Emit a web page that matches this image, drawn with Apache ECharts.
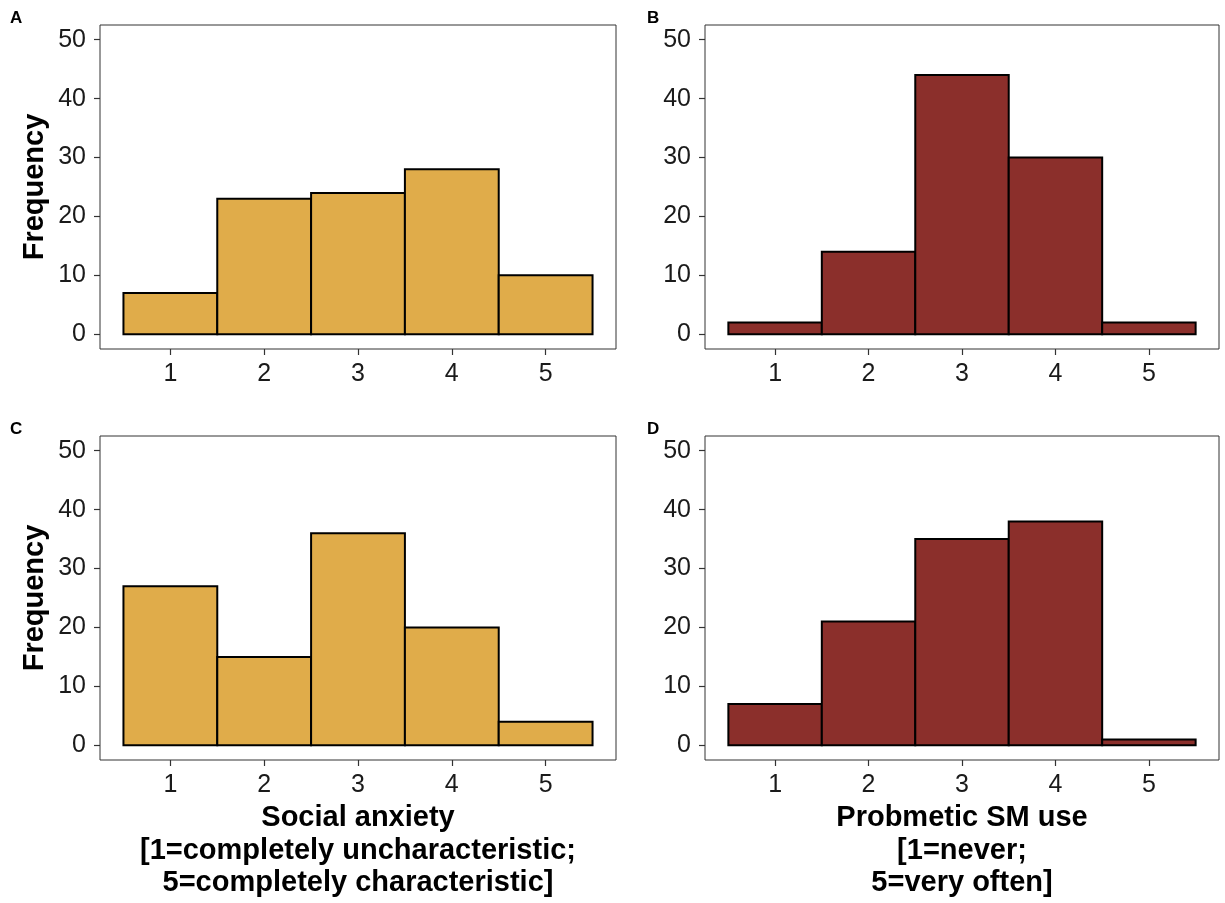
<!DOCTYPE html>
<html>
<head>
<meta charset="utf-8">
<script src="https://cdn.jsdelivr.net/npm/echarts@6/dist/echarts.min.js"></script>
<style>
  html, body { margin: 0; padding: 0; background: #fff; }
  #chart { width: 1225px; height: 903px; }
</style>
</head>
<body>
<div id="chart"></div>
<script>
// 数据
var categories = [1, 2, 3, 4, 5];
var yTicks = [0, 10, 20, 30, 40, 50];
var anxietyA = [7, 23, 24, 28, 10];
var smUseB = [2, 14, 44, 30, 2];
var anxietyC = [27, 15, 36, 20, 4];
var smUseD = [7, 21, 35, 38, 1];
var panelLabels = ["A", "B", "C", "D"];

var yellow = "#e0ac4a";
var red = "#8b2f2b";
var axisGrey = "#333333";
var font = "Liberation Sans";

var grids = [
  { left: 100, top: 25, width: 516, height: 324 },
  { left: 705, top: 25, width: 514, height: 324 },
  { left: 100, top: 436, width: 516, height: 324 },
  { left: 705, top: 436, width: 514, height: 324 }
];

var xNames = [
  "",
  "",
  "Social anxiety\n[1=completely uncharacteristic;\n5=completely characteristic]",
  "Probmetic SM use\n[1=never;\n5=very often]"
];

function makeXAxis(i) {
  return {
    gridIndex: i,
    type: "value",
    position: "bottom",
    min: 0.25,
    max: 5.75,
    splitLine: { show: false },
    axisLine: { show: false, onZero: false },
    axisTick: {
      show: true,
      inside: false,
      customValues: categories,
      length: 6,
      lineStyle: { color: axisGrey, width: 1.2 }
    },
    axisLabel: {
      customValues: categories,
      color: "#1a1a1a",
      fontSize: 25,
      fontFamily: font,
      margin: 13
    },
    name: xNames[i],
    nameLocation: "middle",
    nameGap: 42,
    nameTextStyle: {
      fontSize: 29,
      fontWeight: "bold",
      fontFamily: font,
      color: "#000",
      lineHeight: 32.5,
      verticalAlign: "top"
    }
  };
}

function makeYAxis(i) {
  return {
    gridIndex: i,
    type: "value",
    position: "left",
    min: -2.5,
    max: 52.5,
    splitLine: { show: false },
    axisLine: { show: false, onZero: false },
    axisTick: {
      show: true,
      inside: false,
      customValues: yTicks,
      length: 6,
      lineStyle: { color: axisGrey, width: 1.2 }
    },
    axisLabel: {
      customValues: yTicks,
      color: "#1a1a1a",
      fontSize: 25,
      fontFamily: font,
      margin: 14
    },
    name: i % 2 === 0 ? "Frequency" : "",
    nameLocation: "middle",
    nameGap: 51,
    nameTextStyle: {
      fontSize: 29,
      fontWeight: "bold",
      fontFamily: font,
      color: "#000"
    }
  };
}

function histSeries(i, data, color) {
  return {
    type: "custom",
    xAxisIndex: i,
    yAxisIndex: i,
    data: categories.map(function (c, k) { return [c, data[k]]; }),
    renderItem: function (params, api) {
      var x = api.value(0);
      var v = api.value(1);
      var p0 = api.coord([x - 0.5, v]);
      var p1 = api.coord([x + 0.5, 0]);
      return {
        type: "rect",
        shape: { x: p0[0], y: p0[1], width: p1[0] - p0[0], height: p1[1] - p0[1] },
        style: { fill: color, stroke: "#000", lineWidth: 2 }
      };
    }
  };
}

var chart = echarts.init(document.getElementById("chart"), null, { renderer: "canvas" });

chart.setOption({
  backgroundColor: "#fff",
  animation: false,
  title: panelLabels.map(function (t, i) {
    return {
      text: t,
      left: i % 2 === 0 ? 5 : 642,
      top: i < 2 ? 5 : 416,
      textStyle: { fontSize: 17, fontWeight: "bold", fontFamily: font, color: "#000" }
    };
  }),
  grid: grids.map(function (g) {
    return {
      left: g.left, top: g.top, width: g.width, height: g.height,
      show: true, borderColor: axisGrey, borderWidth: 1, backgroundColor: "transparent"
    };
  }),
  xAxis: [0, 1, 2, 3].map(makeXAxis),
  yAxis: [0, 1, 2, 3].map(makeYAxis),
  series: [
    histSeries(0, anxietyA, yellow),
    histSeries(1, smUseB, red),
    histSeries(2, anxietyC, yellow),
    histSeries(3, smUseD, red)
  ]
});
</script>
</body>
</html>
